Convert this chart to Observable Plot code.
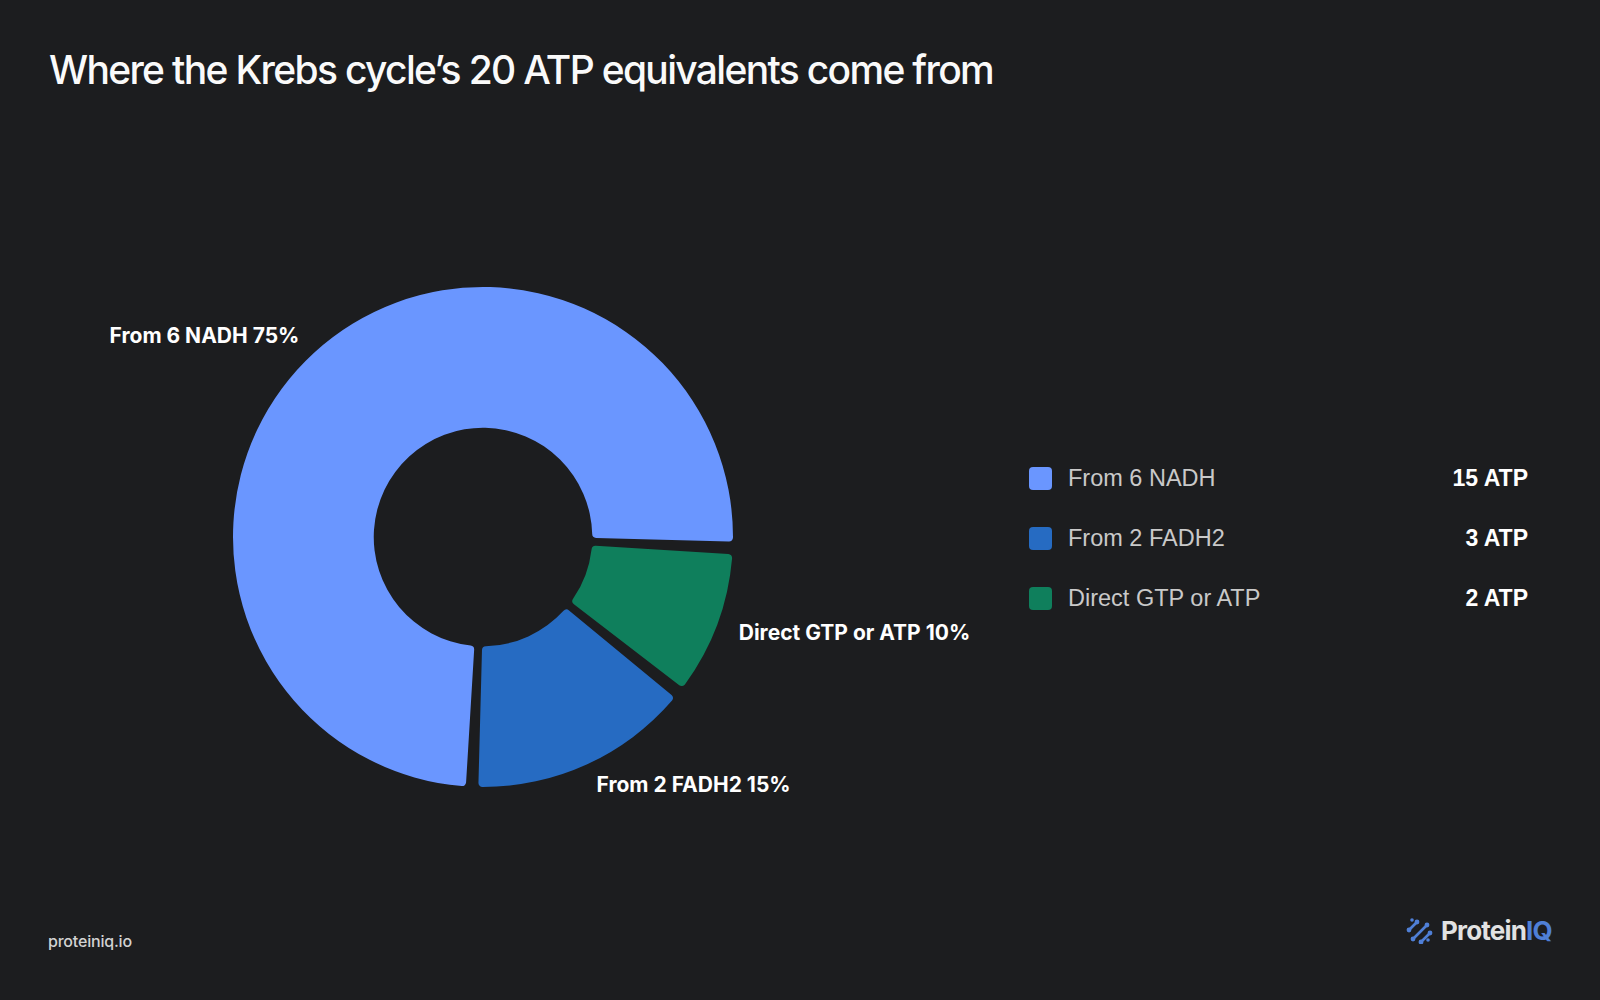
<!DOCTYPE html>
<html>
<head>
<meta charset="utf-8">
<script src="https://cdn.jsdelivr.net/npm/d3@7"></script>
<script src="https://cdn.jsdelivr.net/npm/@observablehq/plot@0.6"></script>
<style>
  html, body { margin: 0; padding: 0; background: #1c1d1f; }
  body { width: 1600px; height: 1000px; position: relative; overflow: hidden; font-family: Inter, "Noto Sans", sans-serif; }
  #title { position: absolute; left: 49px; top: 49.5px; font-family: Inter, sans-serif; font-size: 39px; line-height: 39px; font-weight: 500; color: #fafafa; white-space: nowrap; }
  #chart { position: absolute; left: 0; top: 0; }
  #legend { position: absolute; left: 1029px; top: 448px; width: 499px; font-family: "Liberation Sans", Arial, sans-serif; }
  .row { height: 60px; display: flex; align-items: center; }
  .sw { width: 23px; height: 23px; border-radius: 4px; flex: none; }
  .lab { margin-left: 16px; font-size: 23.5px; color: #c9c9c9; flex: 1; }
  .val { font-size: 23px; font-weight: 700; color: #ffffff; text-align: right; }
  #foot { position: absolute; left: 48px; top: 933px; font-size: 16px; line-height: 16px; font-weight: 500; color: #d2d2d2; letter-spacing: -0.2px; }
  #logo { position: absolute; right: 48px; top: 917px; display: flex; align-items: center; }
  #logo .txt { font-size: 26px; line-height: 26px; font-weight: 700; color: #e2e2e2; letter-spacing: -0.8px; margin-left: 8px; }
  #logo .txt span { color: #4f7fd6; }
</style>
</head>
<body>
<div id="title">Where the Krebs cycle’s 20 ATP equivalents come from</div>
<div id="chart"></div>
<div id="legend"></div>
<div id="foot">proteiniq.io</div>
<div id="logo">
  <svg width="27" height="27" viewBox="0 0 27 27">
    <g stroke="#4f7fd6" stroke-width="2.6" stroke-linecap="round" fill="#4f7fd6">
      <line x1="3" y1="13" x2="11" y2="5"/>
      <line x1="7" y1="22" x2="21" y2="8"/>
      <line x1="15" y1="25" x2="24" y2="16"/>
      <circle cx="3" cy="13" r="2.4" stroke="none"/>
      <circle cx="11" cy="5" r="2.4" stroke="none"/>
      <circle cx="6" cy="3" r="1.8" stroke="none"/>
      <circle cx="7" cy="22" r="2.4" stroke="none"/>
      <circle cx="21" cy="8" r="2.4" stroke="none"/>
      <circle cx="15" cy="25" r="2.4" stroke="none"/>
      <circle cx="24" cy="16" r="2.4" stroke="none"/>
      <circle cx="22" cy="23" r="1.8" stroke="none"/>
    </g>
  </svg>
  <div class="txt">Protein<span>IQ</span></div>
</div>
<script>
// ---- data ----
const categories = ["From 6 NADH", "From 2 FADH2", "Direct GTP or ATP"];
const atpValues = [15, 3, 2];
const sliceColors = ["#6a96ff", "#266bc2", "#0f7f5c"];
const unitLabel = "ATP";

// ---- derived ----
const total = d3.sum(atpValues);
const rows = categories.map((name, i) => ({
  name,
  value: atpValues[i],
  pct: Math.round(atpValues[i] / total * 100)
}));
const startAngle = 92.5 * Math.PI / 180;
const slices = d3.pie().sort(null).value(d => d.value)
  .startAngle(startAngle).endAngle(startAngle - 2 * Math.PI)(rows)
  .map(s => ({...s, mid: (s.startAngle + s.endAngle) / 2}));

const innerRatio = 0.437;
const angularGap = 0.034;
const labelRadius = 1.09;

const chart = Plot.plot({
  width: 1000,
  height: 1000,
  margin: 0,
  x: {domain: [-1, 1], range: [233, 733], axis: null},
  y: {domain: [-1, 1], range: [787, 287], axis: null},
  color: {domain: categories, range: sliceColors},
  style: {background: "transparent", overflow: "visible"},
  marks: [
    Plot.dot(slices, {
      x: () => 0,
      y: () => 0,
      fill: d => d.data.name,
      render: (index, scales, values) => {
        const R = scales.x(1) - scales.x(0);
        const r0 = scales.x(innerRatio) - scales.x(0);
        const arc = d3.arc().innerRadius(r0).outerRadius(R)
          .cornerRadius(4).padRadius(R).padAngle(4 / R);
        const g = d3.create("svg:g");
        for (const i of index) {
          const s = slices[i];
          const sign = Math.sign(s.endAngle - s.startAngle);
          const a0 = s.startAngle + sign * angularGap / 2;
          const a1 = s.endAngle - sign * angularGap / 2;
          g.append("path")
            .attr("d", arc({startAngle: Math.min(a0, a1), endAngle: Math.max(a0, a1)}))
            .attr("fill", values.fill[i])
            .attr("transform", `translate(${values.x[i]},${values.y[i]})`);
        }
        return g.node();
      }
    }),
    Plot.text(slices, {
      filter: d => Math.sin(d.mid) < 0,
      x: d => Math.sin(d.mid) * labelRadius,
      y: d => Math.cos(d.mid) * labelRadius,
      text: d => `${d.data.name} ${d.data.pct}%`,
      textAnchor: "end",
      fill: "#ffffff",
      fontSize: 21,
      fontWeight: 700,
      fontFamily: "Inter"
    }),
    Plot.text(slices, {
      filter: d => Math.sin(d.mid) >= 0,
      x: d => Math.sin(d.mid) * labelRadius,
      y: d => Math.cos(d.mid) * labelRadius,
      text: d => `${d.data.name} ${d.data.pct}%`,
      textAnchor: "start",
      fill: "#ffffff",
      fontSize: 21,
      fontWeight: 700,
      fontFamily: "Inter"
    })
  ]
});
document.getElementById("chart").appendChild(chart);

// ---- legend ----
const legend = d3.select("#legend");
rows.forEach((r, i) => {
  const row = legend.append("div").attr("class", "row");
  row.append("div").attr("class", "sw").style("background", sliceColors[i]);
  row.append("div").attr("class", "lab").text(r.name);
  row.append("div").attr("class", "val").text(`${r.value} ${unitLabel}`);
});

// ---- fit title width ----
function fitTitle() {
  const t = document.getElementById("title");
  t.style.letterSpacing = "0px";
  const w = t.getBoundingClientRect().width;
  const n = t.textContent.length;
  t.style.letterSpacing = ((944 - w) / n) + "px";
}
fitTitle();
if (document.fonts && document.fonts.ready) document.fonts.ready.then(fitTitle);
</script>
</body>
</html>
